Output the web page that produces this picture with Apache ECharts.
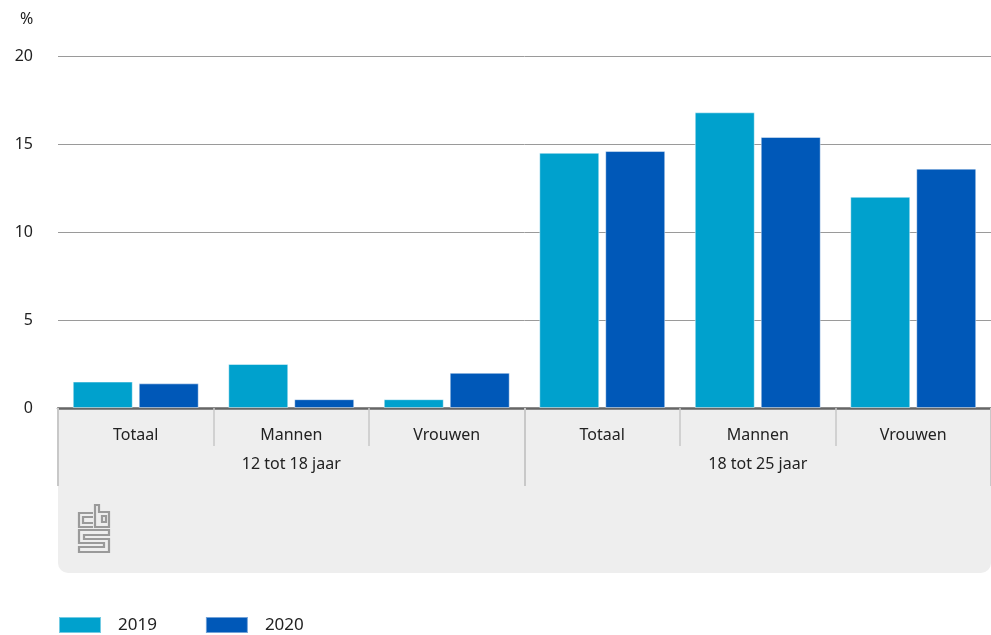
<!DOCTYPE html>
<html><head><meta charset="utf-8">
<script src="https://cdn.jsdelivr.net/npm/echarts@6/dist/echarts.min.js"></script>
<style>html,body{margin:0;padding:0;background:#fff}#c{width:991px;height:635px}</style>
</head><body><div id="c"></div>
<script>
const categories = ['Totaal','Mannen','Vrouwen','Totaal','Mannen','Vrouwen'];
const groups = ['12 tot 18 jaar','18 tot 25 jaar'];
const values2019 = [1.5, 2.5, 0.5, 14.5, 16.8, 12.0];
const values2020 = [1.4, 0.5, 2.0, 14.6, 15.4, 13.6];
const seriesNames = ['2019','2020'];
const yTicks = [0, 5, 10, 15, 20];

const FONT = "'Noto Sans', sans-serif";
const chart = echarts.init(document.getElementById('c'));
const logoStyle = {stroke:'#9a9a9a', lineWidth:2.2, fill:null};
chart.setOption({
  animation:false,
  textStyle:{fontFamily:FONT},
  title:{text:'%', left:15, top:6, textStyle:{fontSize:16, fontWeight:'normal', color:'#222', fontFamily:FONT}},
  color:['#00a1cd','#0058b8'],
  legend:{left:58, bottom:1, padding:0, itemWidth:42, itemHeight:16, itemGap:48, icon:'rect',
    textStyle:{fontSize:17, color:'#222', fontFamily:FONT, padding:[0,0,0,12]},
    data:seriesNames},
  grid:{left:58, right:0, top:56, bottom:227},
  graphic:[
    {type:'rect', z:-10, shape:{x:58, y:409, width:933, height:164, r:[0,0,10,10]}, style:{fill:'#eeeeee'}},
    {type:'group', z:10, children:[
      {type:'polyline', shape:{points:[[93,513],[79,513],[79,527],[93,527]]}, style:logoStyle},
      {type:'polyline', shape:{points:[[93,517],[83,517],[83,523],[93,523]]}, style:logoStyle},
      {type:'polygon', shape:{points:[[95,505],[95,527],[109,527],[109,512],[99,512],[99,505]]}, style:logoStyle},
      {type:'rect', shape:{x:102, y:516, width:4, height:6}, style:logoStyle},
      {type:'polygon', shape:{points:[[109,530],[79,530],[79,543],[104,543],[104,547],[79,547],[79,552],[109,552],[109,539],[84,539],[84,535],[109,535]]}, style:logoStyle}
    ]}
  ],
  xAxis:[
    {type:'category', data:categories, position:'bottom',
     axisLine:{lineStyle:{color:'#666', width:2.5}},
     axisTick:{show:true, interval:0, length:38, lineStyle:{color:'#c8c8c8', width:1.5}},
     axisLabel:{interval:0, margin:19, fontSize:16, color:'#222', fontFamily:FONT}},
    {type:'category', data:groups, position:'bottom', offset:0,
     axisLine:{show:false},
     axisTick:{show:true, interval:0, length:78, lineStyle:{color:'#c8c8c8', width:2}},
     axisLabel:{interval:0, margin:48, fontSize:16, color:'#222', fontFamily:FONT}}
  ],
  yAxis:{type:'value', min:0, max:20, interval:5,
    axisLine:{show:false}, axisTick:{show:false},
    splitLine:{lineStyle:{color:'#9a9a9a', width:1}},
    axisLabel:{margin:25, fontSize:16, color:'#222', fontFamily:FONT,
      formatter:v=>yTicks.includes(v)?String(v):''}},
  series:[
    {name:seriesNames[0], type:'bar', data:values2019, barCategoryGap:'19%', barGap:'10%',
     itemStyle:{borderColor:'rgba(255,255,255,0.45)', borderWidth:1}},
    {name:seriesNames[1], type:'bar', data:values2020, barCategoryGap:'19%', barGap:'10%',
     itemStyle:{borderColor:'rgba(255,255,255,0.45)', borderWidth:1}}
  ]
});
</script></body></html>
